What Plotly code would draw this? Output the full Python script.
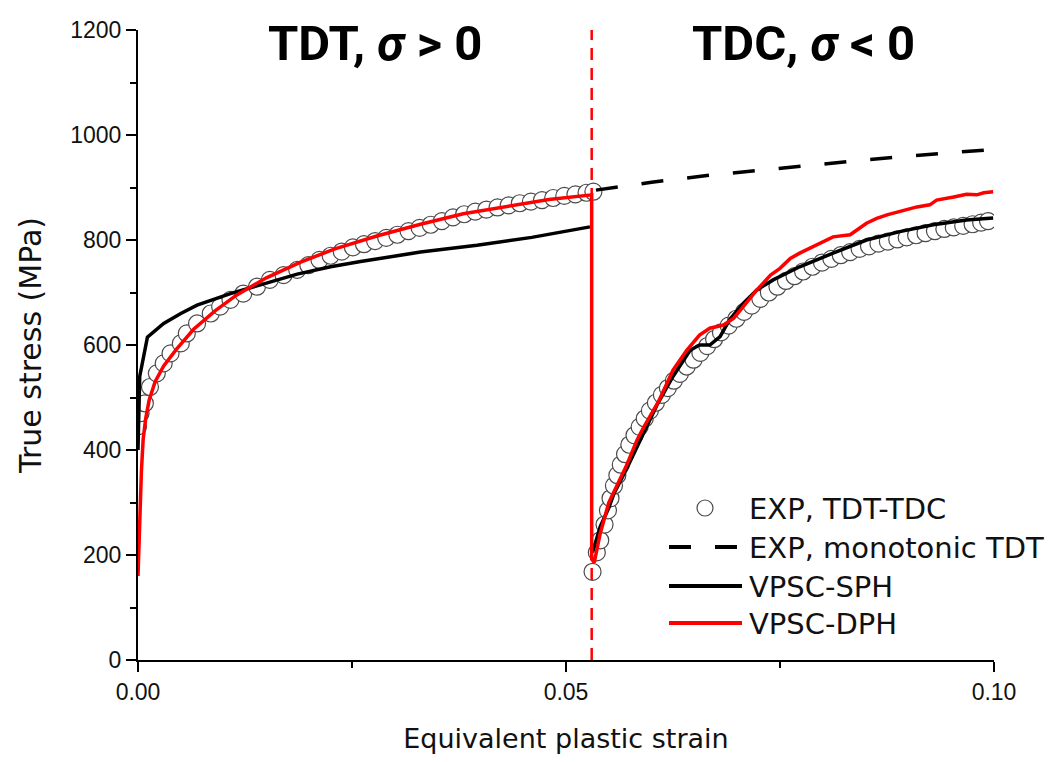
import plotly.graph_objects as go

# ---------------- data ----------------
exp_strain = [0.0000, 0.0003, 0.0008, 0.0014, 0.0022, 0.0030, 0.0038, 0.0050, 0.0057, 0.0069,
              0.0085, 0.0096, 0.0108, 0.0123, 0.0139, 0.0154, 0.0170, 0.0186, 0.0199, 0.0212,
              0.0225, 0.0238, 0.0251, 0.0264, 0.0277, 0.0290, 0.0303, 0.0316, 0.0329, 0.0342,
              0.0355, 0.0368, 0.0381, 0.0394, 0.0407, 0.0420, 0.0433, 0.0446, 0.0459, 0.0472,
              0.0485, 0.0498, 0.0511, 0.0524, 0.0532,
              0.0531, 0.0536, 0.0540, 0.0545, 0.0549, 0.0552, 0.0556, 0.0560, 0.0564, 0.0569,
              0.0574, 0.0580, 0.0586, 0.0592, 0.0598, 0.0605, 0.0612, 0.0619, 0.0626, 0.0633,
              0.0641, 0.0649, 0.0657, 0.0665, 0.0673, 0.0681, 0.0690, 0.0699, 0.0708, 0.0717,
              0.0727, 0.0737, 0.0747, 0.0757, 0.0767, 0.0777, 0.0788, 0.0799, 0.0810, 0.0821,
              0.0832, 0.0843, 0.0854, 0.0865, 0.0876, 0.0887, 0.0898, 0.0909, 0.0920, 0.0931,
              0.0942, 0.0953, 0.0964, 0.0975, 0.0985, 0.0993]
exp_stress = [445, 470, 489, 520, 546, 565, 584, 603, 622, 641,
              660, 673, 686, 698, 711, 724, 733, 743, 752, 762,
              770, 778, 786, 792, 798, 804, 810, 817, 823, 829,
              836, 843, 849, 854, 858, 862, 866, 870, 873, 876,
              880, 884, 887, 890, 892,
              168, 205, 228, 258, 285, 308, 332, 352, 372, 392,
              410, 428, 444, 460, 475, 490, 505, 518, 532, 545,
              559, 572, 585, 598, 611, 624, 637, 650, 663, 675,
              688, 700, 711, 722, 731, 740, 749, 757, 764, 771,
              777, 783, 788, 793, 797, 801, 805, 809, 813, 817,
              821, 824, 827, 830, 833, 836]

mono_strain = [0.0535, 0.0600, 0.0660, 0.0720, 0.0780, 0.0840, 0.0900, 0.0950, 0.0995]
mono_stress = [895, 910, 922, 932, 941, 951, 960, 966, 972]

# None marks the break between the tension and the compression branch
sph_strain = [0.0000, 0.0001, 0.0002, 0.0011, 0.0030, 0.0050, 0.0069, 0.0108, 0.0147, 0.0186,
              0.0225, 0.0260, 0.0330, 0.0396, 0.0460, 0.0528, None,
              0.0531, 0.0540, 0.0550, 0.0556, 0.0572, 0.0587, 0.0606, 0.0625, 0.0645, 0.0656,
              0.0668, 0.0680, 0.0691, 0.0707, 0.0723, 0.0742, 0.0762, 0.0773, 0.0812, 0.0851,
              0.0890, 0.0929, 0.0968, 0.0999]
sph_stress = [400, 470, 540, 615, 641, 660, 676, 698, 717, 735,
              749, 759, 777, 790, 805, 825, None,
              205, 254, 290, 317, 368, 419, 485, 540, 590, 600,
              600, 616, 648, 679, 705, 724, 740, 749, 775, 800,
              816, 829, 838, 842]

dph_strain = [0.0000, 0.0002, 0.0004, 0.0006, 0.0009, 0.0013, 0.0020, 0.0030, 0.0045, 0.0065,
              0.0090, 0.0115, 0.0150, 0.0190, 0.0230, 0.0280, 0.0330, 0.0380, 0.0430, 0.0480,
              0.0530, 0.0530,
              0.0533, 0.0540, 0.0550, 0.0570, 0.0583, 0.0591, 0.0608, 0.0625, 0.0641, 0.0656,
              0.0668, 0.0684, 0.0696, 0.0707, 0.0723, 0.0739, 0.0750, 0.0762, 0.0773, 0.0812,
              0.0832, 0.0851, 0.0863, 0.0875, 0.0890, 0.0910, 0.0925, 0.0933, 0.0953, 0.0968,
              0.0980, 0.0988, 0.0999]
dph_stress = [160, 270, 360, 420, 460, 495, 530, 560, 592, 630,
              665, 695, 728, 758, 783, 808, 830, 850, 864, 877,
              886, 192,
              186, 241, 300, 368, 419, 444, 492, 552, 590, 619,
              632, 638, 651, 673, 705, 733, 746, 765, 775, 806,
              810, 832, 841, 848, 854, 863, 867, 876, 882, 887,
              886, 890, 892]

reversal_strain = 0.0530

x_ticks = [0.00, 0.05, 0.10]
x_ticklabels = ["0.00", "0.05", "0.10"]
y_ticks = [0, 200, 400, 600, 800, 1000, 1200]

legend_names = ["EXP, TDT-TDC", "EXP, monotonic TDT", "VPSC-SPH", "VPSC-DPH"]
# ----------------------------------------------------------------

W, H = 1048, 762
L, R, T, B = 138, 54, 30, 102
PW, PH = W - L - R, H - T - B

def px(xp):
    return (xp - L) / PW

def py(yp):
    return (H - B - yp) / PH

fig = go.Figure()

fig.add_trace(go.Scatter(
    x=exp_strain, y=exp_stress, mode="markers", name=legend_names[0],
    marker=dict(symbol="circle", size=17, color="white",
                line=dict(color="#4a4a4a", width=1.2)),
    showlegend=False))

fig.add_trace(go.Scatter(
    x=mono_strain, y=mono_stress, mode="lines", name=legend_names[1],
    line=dict(color="black", width=3.5, dash="22px,24px"),
    showlegend=False))

fig.add_trace(go.Scatter(
    x=sph_strain, y=sph_stress, mode="lines", name=legend_names[2],
    line=dict(color="black", width=3.5), connectgaps=False, showlegend=False))

fig.add_trace(go.Scatter(
    x=dph_strain, y=dph_stress, mode="lines", name=legend_names[3],
    line=dict(color="#ff0000", width=3.5), showlegend=False))

# vertical reversal line
fig.add_shape(type="line", xref="x", yref="paper", x0=reversal_strain, x1=reversal_strain,
              y0=0, y1=1, line=dict(color="#ff0000", width=2.5, dash="12px,8px"), layer="above")

# manual legend
rows = [508, 547, 586, 623]
lx0, lx1 = 669, 742
fig.add_shape(type="circle", xref="paper", yref="paper",
              xsizemode="pixel", ysizemode="pixel",
              xanchor=px(705), yanchor=py(rows[0]),
              x0=-8, x1=8, y0=-8, y1=8,
              line=dict(color="#4a4a4a", width=1.2), fillcolor="white")
for a, b in [(669, 691), (715, 737)]:
    fig.add_shape(type="line", xref="paper", yref="paper",
                  x0=px(a), x1=px(b), y0=py(rows[1]), y1=py(rows[1]),
                  line=dict(color="black", width=4))
fig.add_shape(type="line", xref="paper", yref="paper",
              x0=px(lx0), x1=px(lx1), y0=py(rows[2]), y1=py(rows[2]),
              line=dict(color="black", width=4))
fig.add_shape(type="line", xref="paper", yref="paper",
              x0=px(lx0), x1=px(lx1), y0=py(rows[3]), y1=py(rows[3]),
              line=dict(color="#ff0000", width=4))
for name, r in zip(legend_names, rows):
    fig.add_annotation(x=px(747), y=py(r + 1), xref="paper", yref="paper",
                       text=name, showarrow=False, xanchor="left", yanchor="middle",
                       font=dict(family="DejaVu Sans", size=29, color="#111111"))

# region titles
title_font = dict(family="Roboto, Liberation Sans, Arial", size=49, color="black")
fig.add_annotation(x=px(375), y=py(43), xref="paper", yref="paper", showarrow=False,
                   text="<b>TDT, <i>σ</i> > 0</b>", xanchor="center", yanchor="middle",
                   font=title_font)
fig.add_annotation(x=px(803), y=py(43), xref="paper", yref="paper", showarrow=False,
                   text="<b>TDC, <i>σ</i> < 0</b>", xanchor="center", yanchor="middle",
                   font=title_font)

axis_common = dict(
    showline=True, linecolor="black", linewidth=2,
    ticks="outside", ticklen=10, tickwidth=2, tickcolor="black",
    showgrid=False, zeroline=False, mirror=False,
    tickfont=dict(family="Liberation Sans, Arial", size=23, color="#111111"),
)

fig.update_xaxes(range=[0, 0.1], tickvals=x_ticks, ticktext=x_ticklabels,
                 minor=dict(tickvals=[0.025, 0.075], ticklen=6, tickwidth=2,
                            tickcolor="black", ticks="outside"),
                 title=dict(text="Equivalent plastic strain", standoff=26,
                            font=dict(family="DejaVu Sans", size=27, color="#111111")),
                 **axis_common)
fig.update_yaxes(range=[0, 1200], tickvals=y_ticks,
                 minor=dict(dtick=100, ticklen=6, tickwidth=2,
                            tickcolor="black", ticks="outside"),
                 title=dict(text="True stress (MPa)", standoff=20,
                            font=dict(family="DejaVu Sans", size=30, color="#111111")),
                 **axis_common)

fig.update_layout(
    width=W, height=H, autosize=False,
    margin=dict(l=L, r=R, t=T, b=B, pad=0),
    plot_bgcolor="white", paper_bgcolor="white",
    showlegend=False,
)

fig.write_html("out.html", config={"displayModeBar": False},
               post_script="document.body.style.margin='0';document.body.style.overflow='hidden';")
